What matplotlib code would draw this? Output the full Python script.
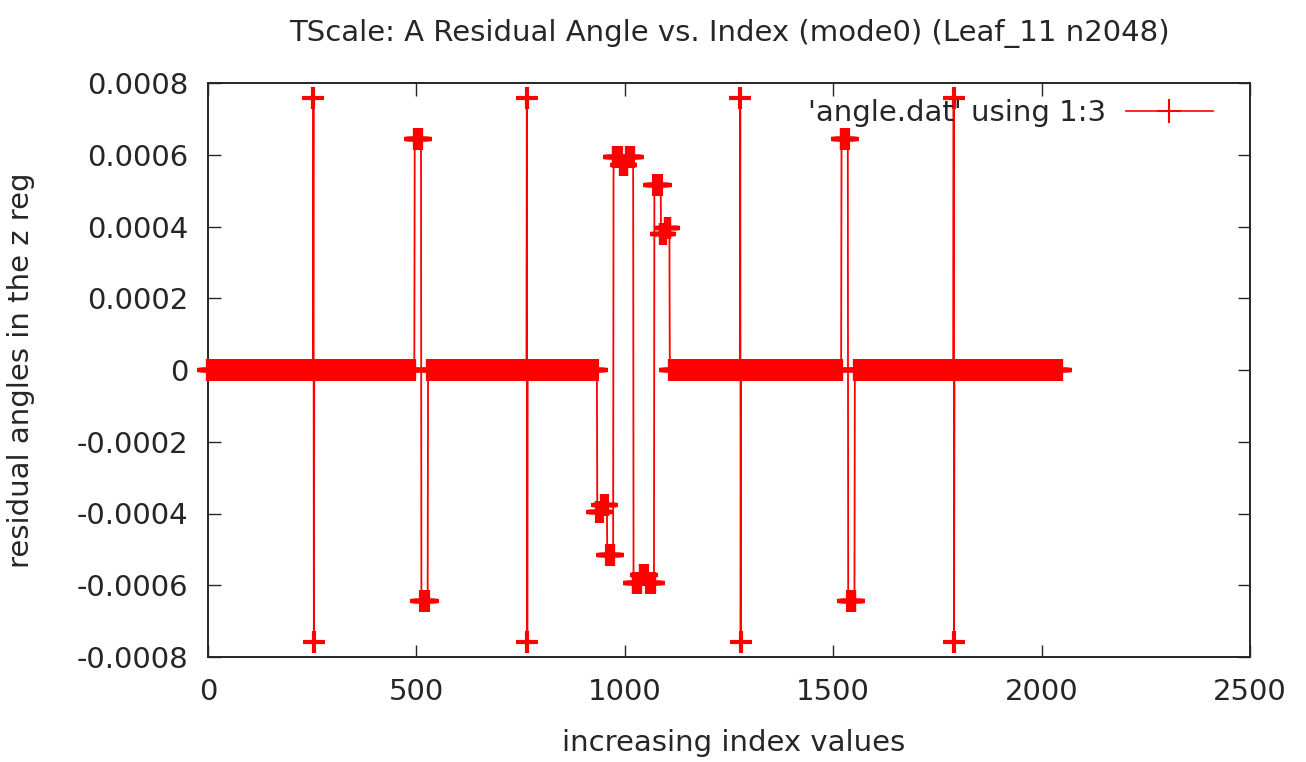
import numpy as np
import matplotlib
matplotlib.use("Agg")
import matplotlib.pyplot as plt
from matplotlib.lines import Line2D

# ---------------- data ----------------
n_points = 2048
# runs of non-zero residual angle: inclusive index ranges and value
run_start = [253, 254, 496, 512, 765, 766,
             934, 946, 958, 973, 991, 1005, 1021, 1038, 1054, 1071, 1087, 1098,
             1277, 1278, 1520, 1536, 1789, 1790]
run_end   = [253, 254, 511, 527, 765, 766,
             945, 957, 972, 990, 1004, 1020, 1037, 1053, 1070, 1086, 1097, 1107,
             1277, 1278, 1535, 1551, 1789, 1790]
run_value = [0.000757, -0.000757, 0.000645, -0.000645, 0.000757, -0.000757,
             -0.000396, -0.000376, -0.000515, 0.000595, 0.000572, 0.000595,
             -0.000595, -0.000572, -0.000595, 0.000516, 0.000378, 0.000396,
             0.000757, -0.000757, 0.000645, -0.000645, 0.000757, -0.000757]

x_ticks = [0, 500, 1000, 1500, 2000, 2500]
x_tick_labels = ["0", "500", "1000", "1500", "2000", "2500"]
y_ticks = [-0.0008, -0.0006, -0.0004, -0.0002, 0, 0.0002, 0.0004, 0.0006, 0.0008]
y_tick_labels = ["-0.0008", "-0.0006", "-0.0004", "-0.0002", "0",
                 "0.0002", "0.0004", "0.0006", "0.0008"]

title = "TScale: A Residual Angle vs. Index (mode0) (Leaf_11 n2048)"
x_label = "increasing index values"
y_label = "residual angles in the z reg"
legend_label = "'angle.dat' using 1:3"

index = np.arange(n_points)
angle = np.zeros(n_points)
for s, e, v in zip(run_start, run_end, run_value):
    angle[s:e + 1] = v

# ---------------- figure ----------------
plt.rcParams['font.family'] = ['DejaVu Sans']
plt.rcParams['axes.unicode_minus'] = False
FS = 21
TXT = '#262626'
fig = plt.figure(figsize=(13.06, 7.62), dpi=100)
ax = fig.add_axes([208 / 1306, 1 - 657 / 762, (1250 - 208) / 1306, (657 - 83) / 762])

red = '#ff0000'
ax.plot(index, angle, color=red, lw=1.3, marker='+', ms=16.5, mew=3.0,
        clip_on=False, zorder=3)

ax.set_xlim(0, 2500)
ax.set_ylim(-0.0008, 0.0008)
ax.set_xticks(x_ticks)
ax.set_xticklabels(x_tick_labels)
ax.set_yticks(y_ticks)
ax.set_yticklabels(y_tick_labels)
ax.tick_params(axis='both', direction='in', length=9, width=1.0, color=TXT,
               labelsize=FS, top=True, right=True, labelcolor=TXT)
ax.tick_params(axis='y', pad=14)
ax.tick_params(axis='x', pad=15)
for sp in ax.spines.values():
    sp.set_linewidth(1.4)
    sp.set_color(TXT)

ax.set_title(title, fontsize=FS, color=TXT, pad=30)
ax.set_xlabel(x_label, fontsize=FS, color=TXT, labelpad=15)
ax.xaxis.set_label_coords(0.504, -0.125)
ax.set_ylabel(y_label, fontsize=FS, color=TXT, labelpad=30)

handle = Line2D([], [], color=red, lw=1.2, marker='+', ms=17, mew=1.5)
ax.legend([handle], [legend_label], loc='center right',
          bbox_to_anchor=((1213 - 208) / 1042, (657 - 113) / 574),
          frameon=False, fontsize=FS, markerfirst=False, handlelength=3.0,
          borderaxespad=0, borderpad=0, handletextpad=0.68, labelcolor=TXT)

fig.savefig('out.png', dpi=100)
